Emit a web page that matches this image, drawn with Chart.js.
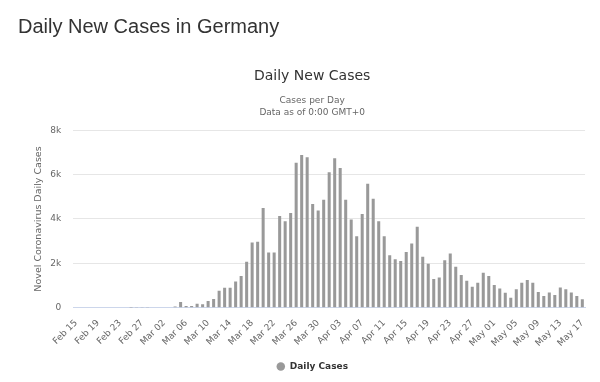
<!DOCTYPE html>
<html>
<head>
<meta charset="utf-8">
<script src="https://cdn.jsdelivr.net/npm/chart.js@4"></script>
<style>
  html, body { margin: 0; padding: 0; background: #fff; }
  #wrap { position: relative; width: 600px; height: 382px; overflow: hidden; }
  #heading { position: absolute; left: 18px; top: 16px; margin: 0; font: normal 20px/20px "Liberation Sans", Arial, sans-serif; color: #333; white-space: nowrap; }
  canvas { position: absolute; left: 0; top: 0; }
</style>
</head>
<body>
<div id="wrap">
  <canvas id="c" width="600" height="382"></canvas>
  <div id="heading">Daily New Cases in Germany</div>
</div>
<script>
const categories = [
  "Feb 15","Feb 16","Feb 17","Feb 18","Feb 19","Feb 20","Feb 21","Feb 22","Feb 23","Feb 24",
  "Feb 25","Feb 26","Feb 27","Feb 28","Feb 29","Mar 01","Mar 02","Mar 03","Mar 04","Mar 05",
  "Mar 06","Mar 07","Mar 08","Mar 09","Mar 10","Mar 11","Mar 12","Mar 13","Mar 14","Mar 15",
  "Mar 16","Mar 17","Mar 18","Mar 19","Mar 20","Mar 21","Mar 22","Mar 23","Mar 24","Mar 25",
  "Mar 26","Mar 27","Mar 28","Mar 29","Mar 30","Mar 31","Apr 01","Apr 02","Apr 03","Apr 04",
  "Apr 05","Apr 06","Apr 07","Apr 08","Apr 09","Apr 10","Apr 11","Apr 12","Apr 13","Apr 14",
  "Apr 15","Apr 16","Apr 17","Apr 18","Apr 19","Apr 20","Apr 21","Apr 22","Apr 23","Apr 24",
  "Apr 25","Apr 26","Apr 27","Apr 28","Apr 29","Apr 30","May 01","May 02","May 03","May 04",
  "May 05","May 06","May 07","May 08","May 09","May 10","May 11","May 12","May 13","May 14",
  "May 15","May 16","May 17"
];
const dailyCases = [
  0, 0, 0, 0, 0, 0, 0, 0, 0, 0,
  2, 10, 10, 5, 15, 15, 15, 15, 50, 255,
  75, 75, 180, 150, 300, 390, 770, 905, 905, 1180,
  1435, 2070, 2945, 2975, 4500, 2490, 2490, 4140, 3900, 4270,
  6540, 6890, 6780, 4680, 4385, 4870, 6105, 6740, 6295, 4870,
  3980, 3220, 4225, 5585, 4915, 3895, 3220, 2360, 2180, 2105,
  2510, 2890, 3650, 2300, 1985, 1290, 1360, 2140, 2440, 1850,
  1480, 1210, 950, 1120, 1575, 1435, 1025, 865, 675, 450,
  835, 1130, 1245, 1130, 710, 525, 685, 570, 910, 835,
  685, 530, 380
];
const yTicks = [0, 2000, 4000, 6000, 8000];
const yTickLabels = ["0", "2k", "4k", "6k", "8k"];
const labelEvery = 4;

const FONT = "'DejaVu Sans', 'Lucida Grande', sans-serif";

new Chart(document.getElementById('c'), {
  type: 'bar',
  data: {
    labels: categories,
    datasets: [{
      label: 'Daily Cases',
      data: dailyCases,
      backgroundColor: '#999999',
      borderWidth: 0,
      barPercentage: 0.55,
      categoryPercentage: 1.0
    }]
  },
  options: {
    responsive: false,
    devicePixelRatio: 1,
    animation: false,
    layout: { padding: { top: 60, left: 32.6, right: 8.3, bottom: 1 } },
    plugins: {
      title: {
        display: true,
        text: 'Daily New Cases',
        color: '#333333',
        font: { family: FONT, size: 14, weight: 'normal', lineHeight: 1.2 },
        padding: { top: 7.5, bottom: 10.6 }
      },
      subtitle: {
        display: true,
        text: ['Cases per Day', 'Data as of 0:00 GMT+0'],
        color: '#666666',
        font: { family: FONT, size: 9, weight: 'normal', lineHeight: 1.3333 },
        padding: { top: 0, bottom: 11.4 }
      },
      legend: {
        display: true,
        position: 'bottom',
        labels: {
          usePointStyle: true,
          pointStyle: 'circle',
          boxHeight: 6,
          color: '#333333',
          font: { family: FONT, size: 9, weight: 'bold' },
          padding: 10
        }
      },
      tooltip: { enabled: false }
    },
    scales: {
      x: {
        afterFit: (s) => { s.height = 44.3; },
        grid: { display: true, color: 'transparent', drawTicks: false },
        border: { display: true, color: '#ccd6eb', width: 1 },
        ticks: {
          autoSkip: false,
          maxRotation: 45,
          minRotation: 45,
          padding: 10,
          color: '#666666',
          font: { family: FONT, size: 9 },
          callback: (v, i) => (i % labelEvery === 0 ? categories[i] : '')
        }
      },
      y: {
        min: 0,
        max: 8000,
        afterFit: (s) => { s.width = 40.7; },
        afterBuildTicks: (s) => { s.ticks = yTicks.map(v => ({ value: v })); },
        grid: {
          color: (ctx) => (ctx.tick && ctx.tick.value === 0 ? 'transparent' : '#e6e6e6'),
          drawTicks: false,
          lineWidth: 1
        },
        border: { display: false },
        ticks: {
          padding: 12,
          color: '#666666',
          font: { family: FONT, size: 9 },
          callback: (v) => yTickLabels[yTicks.indexOf(v)]
        },
        title: {
          display: true,
          text: 'Novel Coronavirus Daily Cases',
          color: '#666666',
          font: { family: FONT, size: 9.5, weight: 'normal', lineHeight: 1.2 },
          padding: 0
        }
      }
    }
  }
});
</script>
</body>
</html>
